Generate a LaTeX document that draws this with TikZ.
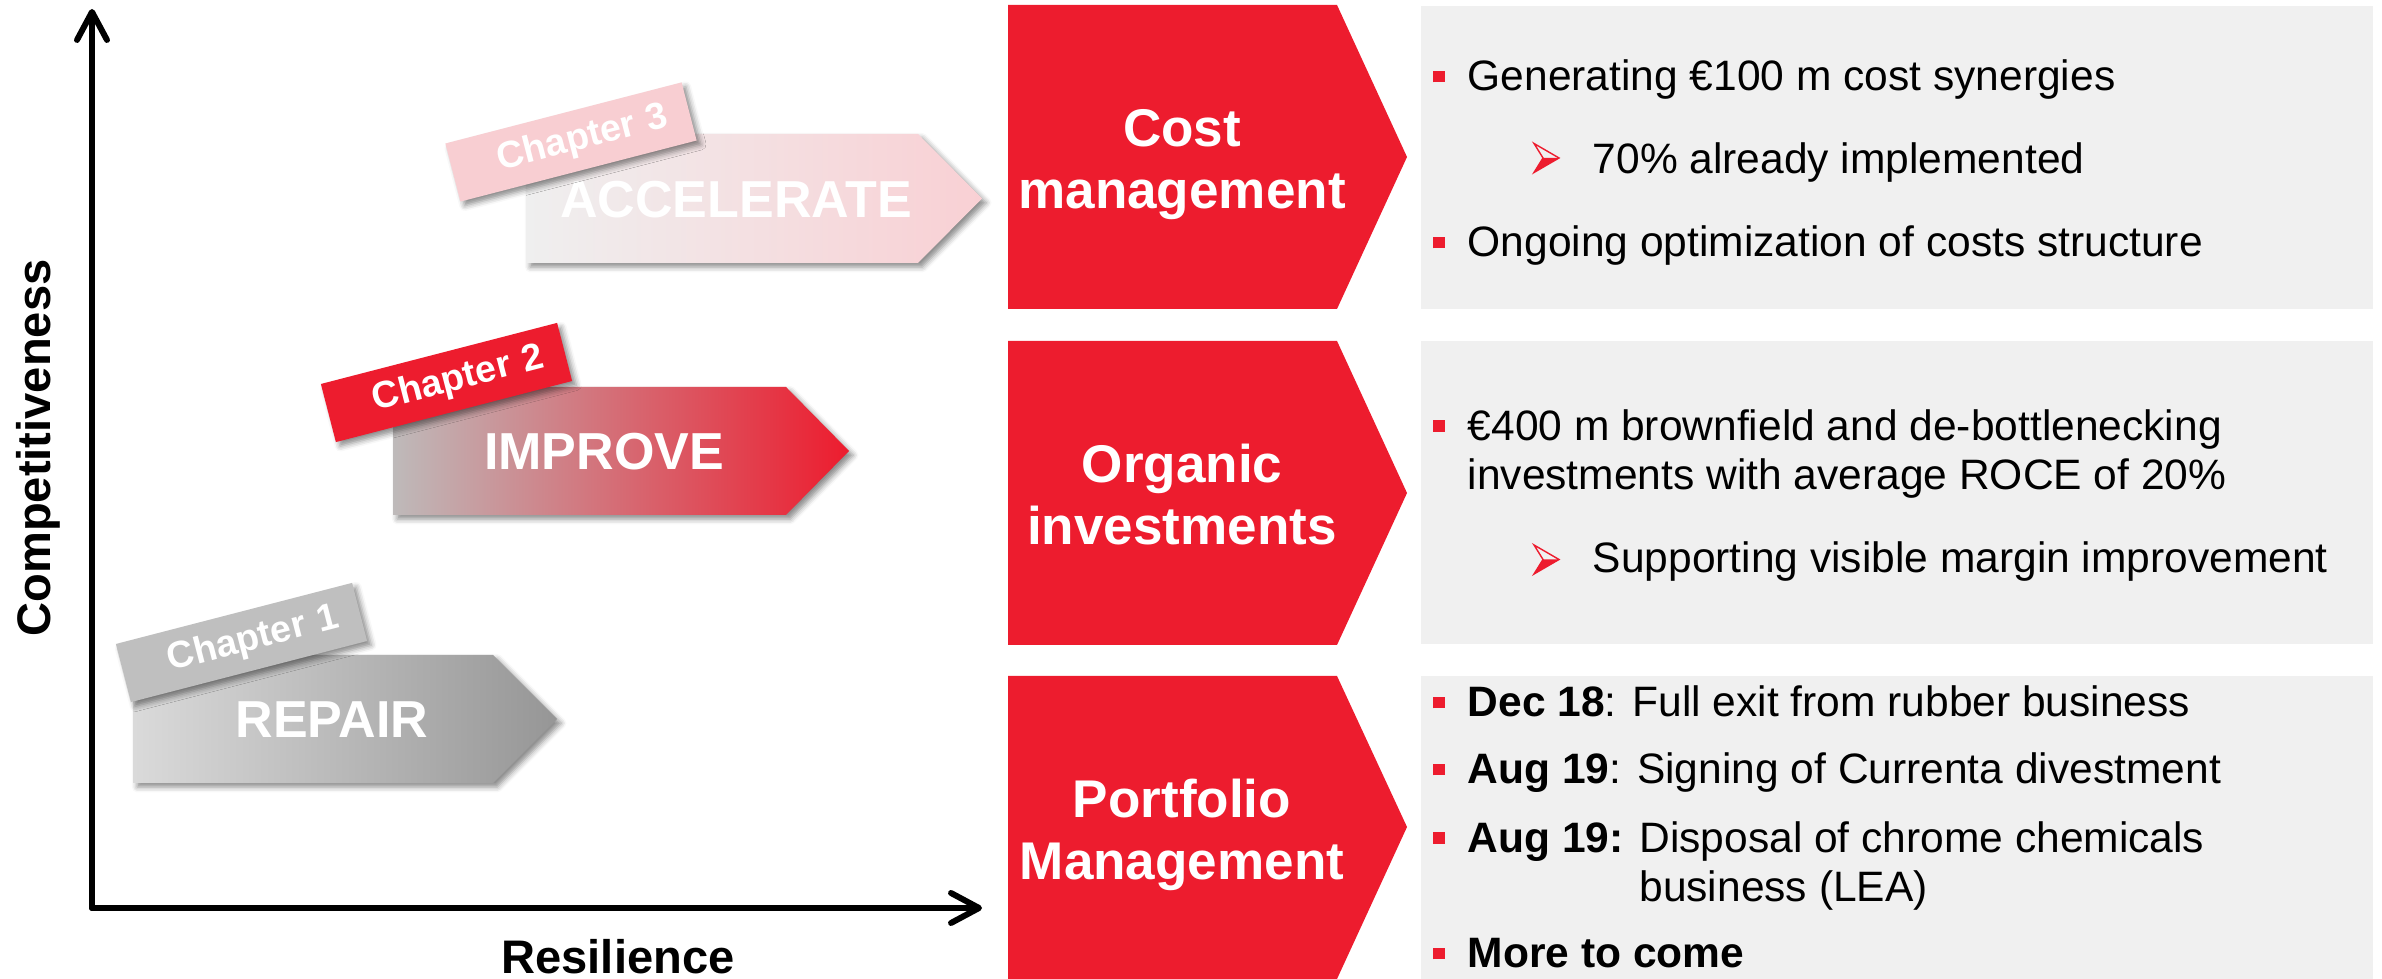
\documentclass[tikz,border=0pt]{standalone}
\usepackage{fontspec}
\setmainfont{Liberation Sans}
\usetikzlibrary{arrows.meta,shadows.blur}

\definecolor{brandred}{RGB}{237,28,46}
\definecolor{panelgray}{RGB}{240,240,240}
\definecolor{tagone}{RGB}{191,191,191}
\definecolor{tagthree}{RGB}{248,206,210}
\definecolor{repairA}{RGB}{218,218,218}
\definecolor{repairB}{RGB}{208,208,208}
\definecolor{repairC}{RGB}{150,150,150}
\definecolor{improveA}{RGB}{190,186,186}
\definecolor{improveB}{RGB}{212,118,126}
\definecolor{accelA}{RGB}{239,239,239}
\definecolor{accelB}{RGB}{244,224,226}
\definecolor{accelC}{RGB}{249,208,212}

% red square bullet hanging left of the item text
\newcommand{\redsq}{\llap{\textcolor{brandred}{\rule[0.2em]{0.28em}{0.28em}}\hspace{0.54em}}}

\tikzset{
  axis/.style={line width=1.7pt, line cap=round, -{Straight Barb[length=0.28cm,width=0.3cm,round]}},
  axislabel/.style={anchor=base, inner sep=0pt, font=\bfseries\fontsize{13.4}{16}\selectfont},
  softshadow/.style={blur shadow={shadow xshift=1.2pt, shadow yshift=-1.2pt, shadow blur radius=1.5pt, shadow opacity=45}},
  chevtext/.style={anchor=base, inner sep=0pt, text=white, font=\bfseries\fontsize{14.8}{17}\selectfont},
  tag/.style={rotate=14.5, minimum height=0.6cm, inner ysep=0pt, inner xsep=0.22cm, text width=2.0cm, align=right,
    text=white, font=\bfseries\fontsize{10.7}{12}\selectfont, softshadow},
  % multi-line nodes: base is the last line
  paneltext/.style={anchor=base, align=center, inner sep=0pt, text=white, font=\bfseries\fontsize{15.1}{17.9}\selectfont},
  item/.style={anchor=base west, inner sep=0pt, align=left, font=\fontsize{12.1}{14.2}\selectfont},
  subarrow/.pic={
    \fill[brandred] (0.09,0) -- (0.25,0) -- (0,-0.145) -- cycle;
    \draw[brandred, line width=0.4pt] (0,0.145) -- (0.25,0) -- (0,-0.145) -- (0.09,0) -- cycle;
  }
}

\begin{document}
\begin{tikzpicture}
\useasboundingbox (0,0) rectangle (23.82,9.79);

% axes
\coordinate (origin) at (0.92,0.71);
\coordinate (ytop) at (0.92,9.70);
\coordinate (xend) at (9.82,0.71);
\draw[axis] (origin) -- (ytop);
\draw[axis] (origin) -- (xend);
\node[axislabel, rotate=90] (compet) at (0.51,5.31) {Competitiveness};
\node[axislabel] (resil) at (6.18,0.05) {Resilience};

% chapter arrows
\shade[softshadow, left color=repairA, middle color=repairB, right color=repairC]
  (1.33,1.96) -- (1.33,3.24) -- (4.93,3.24) -- (5.57,2.60) -- (4.93,1.96) -- cycle;
\shade[softshadow, left color=improveA, middle color=improveB, right color=brandred]
  (3.93,4.64) -- (3.93,5.92) -- (7.86,5.92) -- (8.49,5.28) -- (7.86,4.64) -- cycle;
\shade[softshadow, left color=accelA, middle color=accelB, right color=accelC]
  (5.26,7.16) -- (5.26,8.45) -- (9.18,8.45) -- (9.82,7.805) -- (9.18,7.16) -- cycle;
\node[chevtext] (repair) at (3.32,2.41) {REPAIR};
\node[chevtext] (improve) at (6.04,5.09) {IMPROVE};
\node[chevtext] (accel) at (7.36,7.61) {ACCELERATE};

\node[tag, fill=tagone] (chapone) at (2.415,3.365) {Chapter 1};
\node[tag, fill=brandred] (chaptwo) at (4.465,5.965) {Chapter 2};
\node[tag, fill=tagthree] (chapthree) at (5.71,8.37) {Chapter 3};

% levers
\fill[brandred] (10.08,6.70) -- (10.08,9.74) -- (13.37,9.74) -- (14.07,8.22) -- (13.37,6.70) -- cycle;
\fill[brandred] (10.08,3.34) -- (10.08,6.38) -- (13.37,6.38) -- (14.07,4.86) -- (13.37,3.34) -- cycle;
\fill[brandred] (10.08,0) -- (10.08,3.03) -- (13.37,3.03) -- (14.07,1.52) -- (13.37,0) -- cycle;
\node[paneltext] (cost) at (11.82,7.70) {Cost\\management};
\node[paneltext] (organic) at (11.82,4.34) {Organic\\investments};
\node[paneltext] (portfolio) at (11.82,0.99) {Portfolio\\Management};

\fill[panelgray] (14.21,6.70) rectangle (23.73,9.73);
\fill[panelgray] (14.21,3.35) rectangle (23.73,6.38);
\fill[panelgray] (14.21,0) rectangle (23.73,3.03);

\node[item] (synergies) at (14.67,8.88) {\redsq Generating €100 m cost synergies};
\pic at (15.34,8.21) {subarrow};
\node[item] (implemented) at (15.92,8.05) {70\% already implemented};
\node[item] (structure) at (14.67,7.22) {\redsq Ongoing optimization of costs structure};

\node[item] (brownfield) at (14.67,4.89) {\redsq €400 m brownfield and de-bottlenecking\\investments with average ROCE of 20\%};
\pic at (15.34,4.195) {subarrow};
\node[item] (margin) at (15.92,4.06) {Supporting visible margin improvement};

\node[item] (rubber) at (14.67,2.62) {\redsq\textbf{Dec 18}: Full exit from rubber business};
\node[item] (currenta) at (14.67,1.95) {\redsq\textbf{Aug 19}: Signing of Currenta divestment};
\node[item] (chrome) at (14.67,0.77) {\redsq\textbf{Aug 19:} Disposal of chrome chemicals\\\hphantom{\textbf{Aug 19:} }business (LEA)};
\node[item] (more) at (14.67,0.11) {\redsq\textbf{More to come}};
\end{tikzpicture}
\end{document}
